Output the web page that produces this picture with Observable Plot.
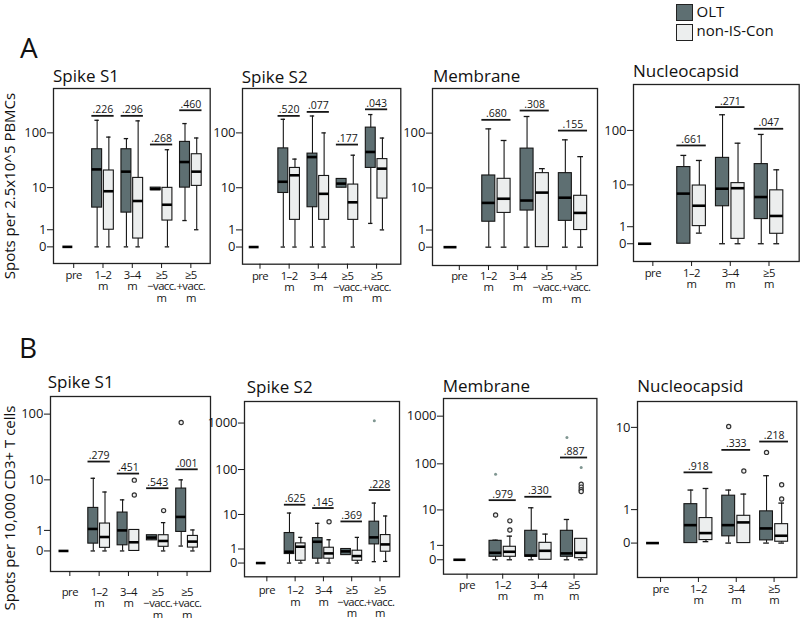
<!DOCTYPE html>
<html><head><meta charset="utf-8">
<script src="https://cdn.jsdelivr.net/npm/d3@7"></script>
<script src="https://cdn.jsdelivr.net/npm/@observablehq/plot@0.6"></script>
<style>
body{margin:0;background:#fff;font-family:"Open Sans",sans-serif;}
#fig{position:relative;width:800px;height:618px;overflow:hidden;background:#fff;}
.abs{position:absolute;white-space:nowrap;line-height:1;color:#111;}
.panel{position:absolute;}
.panel svg{overflow:visible;}
</style></head><body><div id="fig"></div>
<script>
// ---------- categories & labels ----------
const catsFive = ["pre","1–2 m","3–4 m","≥5 −vacc. m","≥5 +vacc. m"];
const catsFour = ["pre","1–2 m","3–4 m","≥5 m"];
const labelsFive = ["pre","1–2\nm","3–4\nm","≥5\n−vacc.\nm","≥5\n+vacc.\nm"];
const labelsFour = ["pre","1–2\nm","3–4\nm","≥5\nm"];
const groups = ["OLT","non-IS-Con"];
const groupColors = ["#5e6f72","#eceeee"];

// ---------- box statistics: [category, group, whiskerLow, q1, median, q3, whiskerHigh] ----------
const boxesA_S1 = [
  ["pre","OLT",0,0,0,0,0],
  ["1–2 m","OLT",0,3.9,22,51,167],
  ["1–2 m","non-IS-Con",0,1,8.5,21,84],
  ["3–4 m","OLT",0,3,20,51,79],
  ["3–4 m","non-IS-Con",0,0.4,5.4,15.3,163],
  ["≥5 −vacc. m","OLT",8.9,8.9,9.4,10,10],
  ["≥5 −vacc. m","non-IS-Con",0,1.9,4.5,9.9,50],
  ["≥5 +vacc. m","OLT",1.9,10,30,69,146],
  ["≥5 +vacc. m","non-IS-Con",1,10.8,20,41.5,81]
];
const pA_S1 = [["1–2 m",".226",200],["3–4 m",".296",200],["≥5 −vacc. m",".268",62],["≥5 +vacc. m",".460",251]];
const outA_S1 = [];

const boxesA_S2 = [
  ["pre","OLT",0,0,0,0,0],
  ["1–2 m","OLT",0,7.9,13,53,174],
  ["1–2 m","non-IS-Con",0,2,17.2,23.5,34],
  ["3–4 m","OLT",0,4,37,42.7,199],
  ["3–4 m","non-IS-Con",0,2,7.6,16.7,100],
  ["≥5 −vacc. m","OLT",10,10,12,14.7,14.7],
  ["≥5 −vacc. m","non-IS-Con",0,2,5.1,11.5,40],
  ["≥5 +vacc. m","OLT",1.6,23.5,45.7,124,211],
  ["≥5 +vacc. m","non-IS-Con",1,6.1,22.8,34,81]
];
const pA_S2 = [["1–2 m",".520",200],["3–4 m",".077",235],["≥5 −vacc. m",".177",62],["≥5 +vacc. m",".043",261]];
const outA_S2 = [];

const boxesA_M = [
  ["pre","OLT",0,0,0,0,0],
  ["1–2 m","OLT",0,1.8,5,17.2,119],
  ["1–2 m","non-IS-Con",0,3,6.1,14.9,74],
  ["3–4 m","OLT",0,3.4,5.6,53,197],
  ["3–4 m","non-IS-Con",0,0,8.1,19,23],
  ["≥5 m","OLT",0,1.9,6.4,19,76],
  ["≥5 m","non-IS-Con",0,1,3,7,38]
];
const pA_M = [["1–2 m",".680",172],["3–4 m",".308",251],["≥5 m",".155",111]];
const outA_M = [];

const boxesA_N = [
  ["pre","OLT",0,0,0,0,0],
  ["1–2 m","OLT",0,0,6.7,21.7,35.5],
  ["1–2 m","non-IS-Con",0.54,1.05,3.7,9.7,28.7],
  ["3–4 m","OLT",0,3.6,8.4,32,190],
  ["3–4 m","non-IS-Con",0,0.22,8.6,10.8,59],
  ["≥5 m","OLT",0,1.73,5.7,24.6,84.7],
  ["≥5 m","non-IS-Con",0,0.5,2.1,7.8,19.3]
];
const pA_N = [["1–2 m",".661",53.7],["3–4 m",".271",260],["≥5 m",".047",107]];
const outA_N = [];

const boxesB_S1 = [
  ["pre","OLT",0,0,0,0,0],
  ["1–2 m","OLT",0,0.28,1.1,3.27,10.6],
  ["1–2 m","non-IS-Con",0,0.11,0.6,1.52,6.3],
  ["3–4 m","OLT",0,0.21,1,2.65,4.6],
  ["3–4 m","non-IS-Con",0,0,0.34,1.03,1.03],
  ["≥5 −vacc. m","OLT",0.43,0.43,0.57,0.7,0.7],
  ["≥5 −vacc. m","non-IS-Con",0,0.15,0.4,0.7,1.6],
  ["≥5 +vacc. m","OLT",0.18,0.9,2.15,7.2,10],
  ["≥5 +vacc. m","non-IS-Con",0,0.12,0.37,0.66,1.03]
];
const pB_S1 = [["1–2 m",".279",19.4],["3–4 m",".451",12.6],["≥5 −vacc. m",".543",7.3],["≥5 +vacc. m",".001",14.7]];
const outB_S1 = [["3–4 m","non-IS-Con",9.9,"o"],["3–4 m","non-IS-Con",5.6,"o"],["≥5 −vacc. m","non-IS-Con",2.9,"o"],["≥5 +vacc. m","OLT",75,"o"]];

const boxesB_S2 = [
  ["pre","OLT",0,0,0,0,0],
  ["1–2 m","OLT",0,0.56,0.75,3.4,10.8],
  ["1–2 m","non-IS-Con",0,0.12,1.24,1.64,2.55],
  ["3–4 m","OLT",0,0.24,1.86,2.43,6.1],
  ["3–4 m","non-IS-Con",0,0.24,0.61,1.13,2.16],
  ["≥5 −vacc. m","OLT",0.48,0.48,0.78,1.0,1.0],
  ["≥5 −vacc. m","non-IS-Con",0,0.12,0.41,0.84,2.55],
  ["≥5 +vacc. m","OLT",0.07,1.51,2.55,6.7,18.3],
  ["≥5 +vacc. m","non-IS-Con",0.085,0.75,1.51,2.98,9.2]
];
const pB_S2 = [["1–2 m",".625",16.8],["3–4 m",".145",14.1],["≥5 −vacc. m",".369",6.8],["≥5 +vacc. m",".228",35.7]];
const outB_S2 = [["3–4 m","non-IS-Con",6.7,"o"],["≥5 +vacc. m","OLT",1120,"*"]];

const boxesB_M = [
  ["pre","OLT",0,0,0,0,0],
  ["1–2 m","OLT",0,0.155,0.4,1.49,1.57],
  ["1–2 m","non-IS-Con",0,0.155,0.47,0.87,2.12],
  ["3–4 m","OLT",0,0.155,0.23,3.03,11.2],
  ["3–4 m","non-IS-Con",0,0,0.54,1.26,2.44],
  ["≥5 m","OLT",0,0.155,0.36,3.03,5.95],
  ["≥5 m","non-IS-Con",0,0.08,0.4,1.74,1.74]
];
const pB_M = [["1–2 m",".979",16.6],["3–4 m",".330",19.7],["≥5 m",".887",136]];
const outB_M = [["1–2 m","OLT",7.6,"o"],["1–2 m","OLT",60,"*"],["1–2 m","non-IS-Con",5.5,"o"],["1–2 m","non-IS-Con",3.2,"o"],
  ["≥5 m","OLT",357,"*"],["≥5 m","non-IS-Con",37,"o"],["≥5 m","non-IS-Con",32,"o"],["≥5 m","non-IS-Con",28,"o"],["≥5 m","non-IS-Con",25.7,"o"],["≥5 m","non-IS-Con",84,"*"]];

const boxesB_N = [
  ["pre","OLT",0,0,0,0,0],
  ["1–2 m","OLT",0,0,0.45,1.24,2.0],
  ["1–2 m","non-IS-Con",0.03,0.064,0.23,0.68,2.1],
  ["3–4 m","OLT",0,0.15,0.45,1.67,2.0],
  ["3–4 m","non-IS-Con",0,0,0.535,0.76,1.76],
  ["≥5 m","OLT",0,0.057,0.355,0.93,3.04],
  ["≥5 m","non-IS-Con",0,0.028,0.164,0.48,1.29]
];
const pB_N = [["1–2 m",".918",3.33],["3–4 m",".333",5.9],["≥5 m",".218",7.2]];
const outB_N = [["3–4 m","OLT",10.2,"o"],["3–4 m","non-IS-Con",3.45,"o"],["≥5 m","OLT",5.55,"o"],["≥5 m","non-IS-Con",2.35,"o"],["≥5 m","non-IS-Con",1.49,"o"]];

const yTicksA = [0,1,10,100];
const yTicksB1 = [0,1,10,100];
const yTicksB2 = [0,1,10,100,1000];
const yTicksB4 = [0,1,10];

// ---------- panel layout ----------
const panels = [
  {title:"Spike S1", boxes:boxesA_S1, pv:pA_S1, out:outA_S1, cats:catsFive, labels:labelsFive, yticks:yTicksA,
   frame:[53.3,88.3,210,263.3], xdom:[-0.69,4.66], ydom:[-0.96,607], ldy:7.5, tb:[53,81.7]},
  {title:"Spike S2", boxes:boxesA_S2, pv:pA_S2, out:outA_S2, cats:catsFive, labels:labelsFive, yticks:yTicksA,
   frame:[241.7,88.3,400,264], xdom:[-0.6,4.83], ydom:[-1,607], ldy:7.5, tb:[241.7,82.7]},
  {title:"Membrane", boxes:boxesA_M, pv:pA_M, out:outA_M, cats:catsFour, labels:labelsFive, labelSpread:0.7625, yticks:yTicksA,
   frame:[432,88,597,265], xdom:[-0.67,3.64], ydom:[-1.1,614], ldy:6.5, tb:[433,81.7]},
  {title:"Nucleocapsid", boxes:boxesA_N, pv:pA_N, out:outA_N, cats:catsFour, labels:labelsFour, yticks:yTicksA,
   frame:[633.3,84,799,261], xdom:[-0.5,3.78], ydom:[-1.06,654], ldy:7.5, tb:[633,77.3]},
  {title:"Spike S1", boxes:boxesB_S1, pv:pB_S1, out:outB_S1, cats:catsFive, labels:labelsFive, yticks:yTicksB1,
   frame:[50,395.7,210,570.7], xdom:[-0.66,4.8], ydom:[-1,182], ldy:16.5, tb:[47.7,388.3]},
  {title:"Spike S2", boxes:boxesB_S2, pv:pB_S2, out:outB_S2, cats:catsFive, labels:labelsFive, yticks:yTicksB2,
   frame:[244.3,400.7,399.3,576], xdom:[-0.79,4.69], ydom:[-0.97,2900], ldy:9.5, tb:[246.7,393.3]},
  {title:"Membrane", boxes:boxesB_M, pv:pB_M, out:outB_M, cats:catsFour, labels:labelsFour, yticks:yTicksB2,
   frame:[443.3,398.3,596.7,574], xdom:[-0.66,3.64], ydom:[-1,2340], ldy:6.5, tb:[442.7,391.7]},
  {title:"Nucleocapsid", boxes:boxesB_N, pv:pB_N, out:outB_N, cats:catsFour, labels:labelsFour, yticks:yTicksB4,
   frame:[636.7,400.7,796,576.7], xdom:[-0.61,3.6], ydom:[-1.04,17.8], ldy:7.5, tb:[637.3,392.3]}
];

const fig = document.getElementById("fig");
const FONT = "Open Sans";

function addText(txt, left, top, size, extra) {
  const d = document.createElement("div");
  d.className = "abs";
  d.textContent = txt;
  d.style.left = left + "px";
  d.style.top = top + "px";
  d.style.fontSize = size + "px";
  if (extra) Object.assign(d.style, extra);
  fig.appendChild(d);
  return d;
}

function drawPanel(cfg) {
  const [fx0, fy0, fx1, fy1] = cfg.frame;
  const mL = 44, mR = 3, mT = 4, mB = 50;
  const W = fx1 - fx0 + mL + mR, H = fy1 - fy0 + mT + mB;
  const ci = c => cfg.cats.indexOf(c);
  const off = g => g === groups[0] ? -0.2 : 0.2;
  const bw = 0.34, cap = 0.15;
  const boxes = cfg.boxes.map(d => ({cat:d[0], group:d[1], lo:d[2], q1:d[3], med:d[4], q3:d[5], hi:d[6]}));
  boxes.forEach(b => b.xc = ci(b.cat) + off(b.group));
  const outs = cfg.out.map(d => ({cat:d[0], group:d[1], v:d[2], kind:d[3]}));
  outs.forEach(o => o.xc = ci(o.cat) + off(o.group));
  const pv = cfg.pv.map(d => ({cat:d[0], text:d[1], y:d[2], xc:ci(d[0])}));
  const spread = cfg.labelSpread || 1;
  const labelRows = cfg.labels.map((t, i) => ({t, p: 0.03 * (spread !== 1) + i * spread}));
  const ink = "#161616";

  const plot = Plot.plot({
    width: W, height: H, marginLeft: mL, marginRight: mR, marginTop: mT, marginBottom: mB,
    style: {background: "transparent", overflow: "visible", fontFamily: FONT, color: ink},
    x: {type: "linear", domain: cfg.xdom, axis: null},
    y: {type: "symlog", domain: cfg.ydom, axis: null},
    marks: [
      Plot.ruleX(boxes.filter(d => d.hi > d.lo), {x: "xc", y1: "lo", y2: "hi", stroke: ink, strokeWidth: 1.1}),
      Plot.ruleY(boxes.filter(d => d.lo < d.q1), {y: "lo", x1: d => d.xc - cap/2, x2: d => d.xc + cap/2, stroke: ink, strokeWidth: 1.3}),
      Plot.ruleY(boxes.filter(d => d.hi > d.q3), {y: "hi", x1: d => d.xc - cap/2, x2: d => d.xc + cap/2, stroke: ink, strokeWidth: 1.3}),
      Plot.rect(boxes, {x1: d => d.xc - bw/2, x2: d => d.xc + bw/2, y1: "q1", y2: "q3",
        fill: d => groupColors[groups.indexOf(d.group)], stroke: ink, strokeWidth: 1.1}),
      Plot.ruleY(boxes, {y: "med", x1: d => d.xc - bw/2, x2: d => d.xc + bw/2, stroke: "#000", strokeWidth: 2.6}),
      Plot.dot(outs.filter(d => d.kind === "o"), {x: "xc", y: "v", r: 2.1, stroke: "#333", strokeWidth: 1.2, fill: "#f0f0f0"}),
      Plot.dot(outs.filter(d => d.kind === "*"), {x: "xc", y: "v", r: 1.5, fill: "#7f9691", stroke: null}),
      Plot.ruleY(pv, {y: "y", x1: d => d.xc - 0.38, x2: d => d.xc + 0.38, stroke: ink, strokeWidth: 1.8}),
      Plot.text(pv, {x: "xc", y: "y", text: "text", dy: -2.5, lineAnchor: "bottom", fontSize: 10.5, fill: ink}),
      Plot.frame({stroke: "#222", strokeWidth: 1.3}),
      Plot.axisY({ticks: cfg.yticks, tickFormat: d => String(d), tickSize: 6, tickPadding: 1, fontSize: 13, label: null, stroke: ink}),
      Plot.axisX({ticks: labelRows.map(d => d.p), tickFormat: () => "", tickSize: 5, label: null, stroke: ink}),
      Plot.text(labelRows, {x: "p", text: "t", frameAnchor: "bottom", lineAnchor: "top", dy: cfg.ldy, fontSize: 11.3, lineHeight: 1.0, fill: ink})
    ]
  });
  // tighten the category labels (narrow humanist look of the original)
  const textGroups = plot.querySelectorAll('g[aria-label="text"]');
  const lab = textGroups[textGroups.length - 1];
  if (lab) lab.style.letterSpacing = "-0.55px";
  const wrap = document.createElement("div");
  wrap.className = "panel";
  wrap.style.left = (fx0 - mL) + "px";
  wrap.style.top = (fy0 - mT) + "px";
  wrap.style.width = W + "px";
  wrap.style.height = H + "px";
  wrap.appendChild(plot);
  fig.appendChild(wrap);
  addText(cfg.title, cfg.tb[0], cfg.tb[1] - 0.888 * 17, 17);
}

panels.forEach(drawPanel);

// section letters
addText("A", 20, 58 - 0.888 * 28, 28);
addText("B", 19, 358.3 - 0.888 * 28, 28);

// y-axis titles (rotated)
const yl1 = addText("Spots per 2.5x10^5 PBMCs", 9, 186, 15, {transform: "translate(-50%,-50%) rotate(-90deg)", transformOrigin: "center"});
const yl2 = addText("Spots per 10,000 CD3+ T cells", 9, 508, 15, {transform: "translate(-50%,-50%) rotate(-90deg)", transformOrigin: "center"});
yl1.style.lineHeight = "15px"; yl2.style.lineHeight = "15px";

// legend
groups.forEach((g, i) => {
  const sw = document.createElement("div");
  sw.style.position = "absolute";
  sw.style.left = "676px";
  sw.style.top = (3.5 + i * 20.7) + "px";
  sw.style.width = "15px";
  sw.style.height = "15px";
  sw.style.background = groupColors[i];
  sw.style.border = "1.2px solid #222";
  fig.appendChild(sw);
  addText(g, 696.5, 3.7 + i * 19.5, 15);
});
</script></body></html>
